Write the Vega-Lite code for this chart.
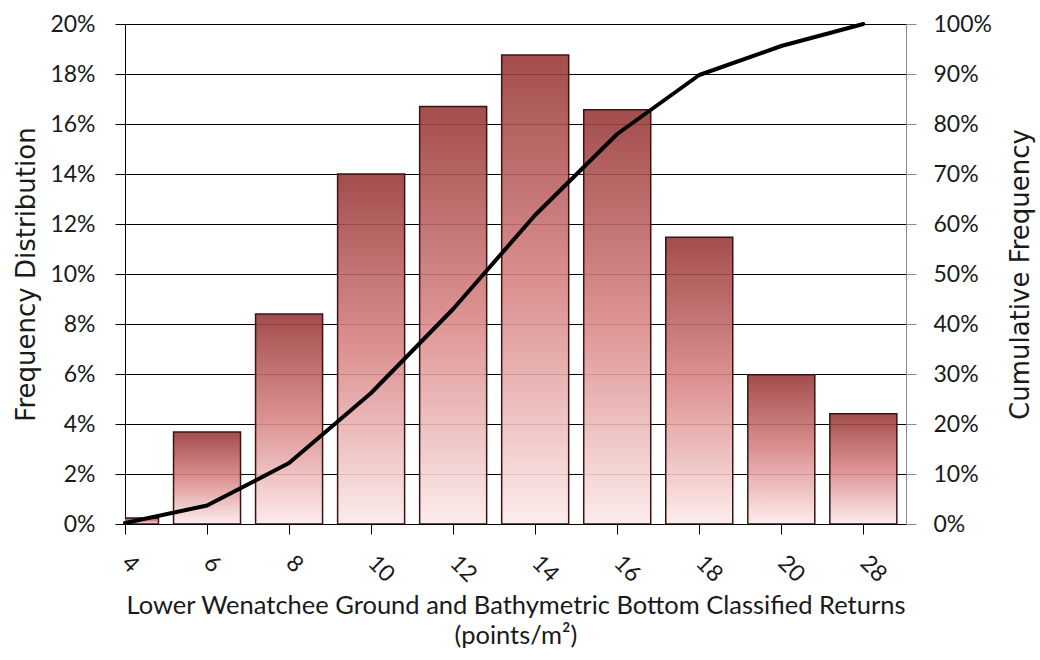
{
  "$schema": "https://vega.github.io/schema/vega-lite/v6.json",
  "width": 781,
  "height": 500,
  "autosize": {"type": "none"},
  "padding": {"left": 125, "top": 24, "right": 134, "bottom": 136},
  "background": "white",
  "config": {
    "font": "Lato",
    "view": {"stroke": null},
    "axis": {
      "labelFont": "Lato",
      "titleFont": "Lato",
      "labelFontSize": 23,
      "titleFontSize": 25,
      "labelColor": "#1a1a1a",
      "titleColor": "#1a1a1a",
      "titleFontWeight": "normal",
      "domainColor": "black",
      "tickColor": "black",
      "tickSize": 10
    }
  },
  "data": {
    "values": [
      {"bin": "4", "freq": 0.0024, "cum": 0.002},
      {"bin": "6", "freq": 0.0368, "cum": 0.037},
      {"bin": "8", "freq": 0.084, "cum": 0.122},
      {"bin": "10", "freq": 0.140, "cum": 0.262},
      {"bin": "12", "freq": 0.167, "cum": 0.430},
      {"bin": "14", "freq": 0.1876, "cum": 0.618},
      {"bin": "16", "freq": 0.1657, "cum": 0.780},
      {"bin": "18", "freq": 0.1147, "cum": 0.898},
      {"bin": "20", "freq": 0.0597, "cum": 0.956},
      {"bin": "28", "freq": 0.0441, "cum": 1.0}
    ]
  },
  "encoding": {
    "x": {
      "field": "bin",
      "type": "ordinal",
      "sort": null,
      "scale": {"type": "point", "padding": 0.26, "align": 0},
      "axis": {
        "labelAngle": 45,
        "labelAlign": "left",
        "labelBaseline": "middle",
        "labelPadding": 25,
        "grid": false,
        "title": ["Lower Wenatchee Ground and Bathymetric Bottom Classified Returns", "(points/m²)"],
        "titleFontSize": 25.5,
        "titleLineHeight": 30,
        "titlePadding": 7
      }
    }
  },
  "layer": [
    {
      "mark": {
        "type": "bar",
        "size": 67,
        "clip": true,
        "fill": {
          "gradient": "linear",
          "x1": 0, "y1": 0, "x2": 0, "y2": 1,
          "stops": [
            {"offset": 0, "color": "#993a3a"},
            {"offset": 0.5, "color": "#d98686"},
            {"offset": 1, "color": "#fdeaea"}
          ]
        },
        "fillOpacity": 0.9,
        "stroke": "#3a1414",
        "strokeWidth": 1.5
      },
      "encoding": {
        "y": {
          "field": "freq",
          "type": "quantitative",
          "scale": {"domain": [0, 0.2]},
          "axis": {
            "orient": "left",
            "format": ".0%",
            "values": [0, 0.02, 0.04, 0.06, 0.08, 0.1, 0.12, 0.14, 0.16, 0.18, 0.2],
            "grid": true,
            "gridColor": "black",
            "gridOpacity": 1,
            "labelPadding": 20,
            "title": "Frequency Distribution",
            "titleFont": "DejaVu Sans",
            "titleFontSize": 26,
            "titlePadding": 10
          }
        }
      }
    },
    {
      "mark": {"type": "line", "color": "black", "strokeWidth": 4, "strokeJoin": "round", "strokeCap": "round", "interpolate": "linear"},
      "encoding": {
        "y": {
          "field": "cum",
          "type": "quantitative",
          "scale": {"domain": [0, 1]},
          "axis": {
            "orient": "right",
            "format": ".0%",
            "values": [0, 0.1, 0.2, 0.3, 0.4, 0.5, 0.6, 0.7, 0.8, 0.9, 1],
            "grid": false,
            "domainColor": "#8a8a8a",
            "tickColor": "#8a8a8a",
            "labelPadding": 17,
            "title": "Cumulative Frequency",
            "titleFont": "DejaVu Sans",
            "titleFontSize": 26,
            "titleAngle": 270,
            "titlePadding": 42
          }
        }
      }
    }
  ],
  "resolve": {"scale": {"y": "independent"}}
}
